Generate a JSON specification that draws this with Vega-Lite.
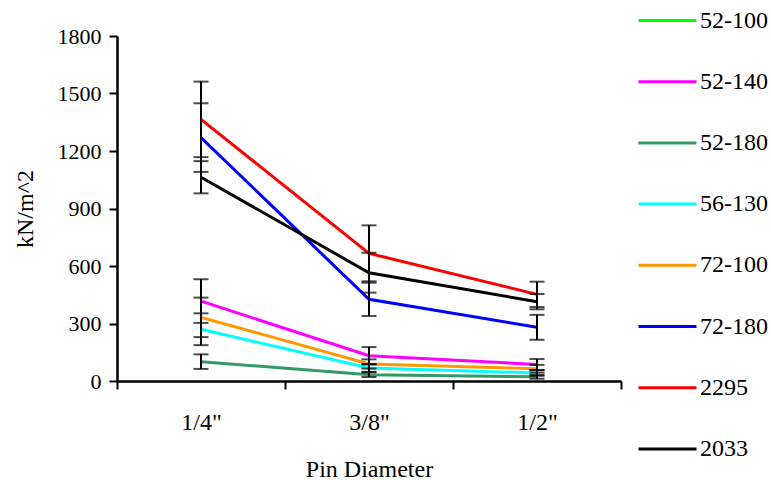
{
  "$schema": "https://vega.github.io/schema/vega-lite/v6.json",
  "autosize": "none",
  "width": 504,
  "height": 345,
  "padding": {"left": 117, "top": 36, "right": 150, "bottom": 99},
  "background": "white",
  "config": {
    "view": {"stroke": null}
  },
  "data": {
    "values": [
      {"series": "52-140", "pin": "1/4\"", "value": 417, "lo": 303, "hi": 531},
      {"series": "52-140", "pin": "3/8\"", "value": 132, "lo": 87, "hi": 177},
      {"series": "52-140", "pin": "1/2\"", "value": 86, "lo": 57, "hi": 115},
      {"series": "52-180", "pin": "1/4\"", "value": 101, "lo": 63, "hi": 139},
      {"series": "52-180", "pin": "3/8\"", "value": 33, "lo": 21, "hi": 45},
      {"series": "52-180", "pin": "1/2\"", "value": 22, "lo": 12, "hi": 32},
      {"series": "56-130", "pin": "1/4\"", "value": 270, "lo": 187, "hi": 353},
      {"series": "56-130", "pin": "3/8\"", "value": 68, "lo": 48, "hi": 88},
      {"series": "56-130", "pin": "1/2\"", "value": 42, "lo": 27, "hi": 57},
      {"series": "72-100", "pin": "1/4\"", "value": 332, "lo": 229, "hi": 435},
      {"series": "72-100", "pin": "3/8\"", "value": 89, "lo": 65, "hi": 113},
      {"series": "72-100", "pin": "1/2\"", "value": 64, "lo": 44, "hi": 84},
      {"series": "72-180", "pin": "1/4\"", "value": 1270, "lo": 1091, "hi": 1449},
      {"series": "72-180", "pin": "3/8\"", "value": 426, "lo": 339, "hi": 513},
      {"series": "72-180", "pin": "1/2\"", "value": 280, "lo": 215, "hi": 345},
      {"series": "2295", "pin": "1/4\"", "value": 1365, "lo": 1168, "hi": 1562},
      {"series": "2295", "pin": "3/8\"", "value": 666, "lo": 520, "hi": 812},
      {"series": "2295", "pin": "1/2\"", "value": 452, "lo": 386, "hi": 518},
      {"series": "2033", "pin": "1/4\"", "value": 1063, "lo": 979, "hi": 1147},
      {"series": "2033", "pin": "3/8\"", "value": 565, "lo": 461, "hi": 669},
      {"series": "2033", "pin": "1/2\"", "value": 414, "lo": 374, "hi": 454}
    ]
  },
  "encoding": {
    "x": {
      "field": "pin",
      "type": "nominal",
      "sort": ["1/4\"", "3/8\"", "1/2\""],
      "scale": {"type": "band", "paddingInner": 0, "paddingOuter": 0},
      "axis": {
        "grid": false,
        "domainColor": "black",
        "domainWidth": 2.5,
        "tickColor": "black",
        "tickWidth": 2,
        "tickSize": 8,
        "labelAngle": 0,
        "tickBand": "extent",
        "labelPadding": 21,
        "labelFont": "Liberation Serif",
        "labelFontSize": 24,
        "labelColor": "black",
        "title": "Pin Diameter",
        "titleFont": "Liberation Serif",
        "titleFontSize": 24,
        "titleFontWeight": "normal",
        "titleColor": "black",
        "titleY": 95,
        "titleBaseline": "alphabetic"
      }
    }
  },
  "layer": [
    {
      "mark": {"type": "line", "strokeWidth": 3},
      "encoding": {
        "y": {
          "field": "value",
          "type": "quantitative",
          "scale": {"domain": [0, 1800], "nice": false},
          "axis": {
            "grid": false,
            "values": [0, 300, 600, 900, 1200, 1500, 1800],
            "format": "d",
            "domainColor": "black",
            "domainWidth": 2.5,
            "tickColor": "black",
            "tickWidth": 2,
            "tickSize": 8,
            "labelPadding": 8,
            "labelFont": "Liberation Serif",
            "labelFontSize": 22,
            "labelColor": "black",
            "title": "kN/m^2",
            "titleFont": "Liberation Serif",
            "titleFontSize": 24,
            "titleFontWeight": "normal",
            "titleColor": "black",
            "titleX": -85,
            "titleBaseline": "alphabetic"
          }
        },
        "color": {
          "field": "series",
          "type": "nominal",
          "scale": {
            "domain": ["52-100", "52-140", "52-180", "56-130", "72-100", "72-180", "2295", "2033"],
            "range": ["#00FF00", "#FF00FF", "#339966", "#00FFFF", "#FF9900", "#0000FF", "#FF0000", "#000000"]
          },
          "legend": {
            "title": null,
            "orient": "none",
            "legendX": 520,
            "legendY": -46,
            "padding": 0,
            "symbolType": "stroke",
            "symbolSize": 3364,
            "symbolStrokeWidth": 3,
            "labelFont": "Liberation Serif",
            "labelFontSize": 24,
            "labelColor": "black",
            "labelOffset": 2,
            "rowPadding": 18.2
          }
        }
      }
    },
    {
      "mark": {"type": "rule", "color": "black", "strokeWidth": 2},
      "encoding": {
        "y": {"field": "lo", "type": "quantitative"},
        "y2": {"field": "hi"}
      }
    },
    {
      "mark": {"type": "tick", "color": "black", "size": 15, "thickness": 2},
      "encoding": {"y": {"field": "lo", "type": "quantitative"}}
    },
    {
      "mark": {"type": "tick", "color": "black", "size": 15, "thickness": 2},
      "encoding": {"y": {"field": "hi", "type": "quantitative"}}
    }
  ]
}
